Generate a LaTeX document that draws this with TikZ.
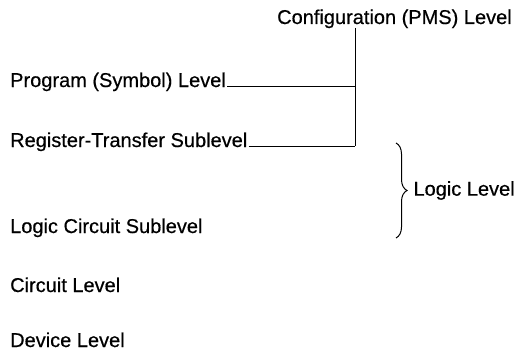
\documentclass[tikz,border=0pt]{standalone}
\usepackage{fontspec}
\setmainfont{Liberation Sans}
\newfontfamily\levelfont[FakeBold=0.5]{Liberation Sans}
\usetikzlibrary{decorations.pathreplacing,positioning}

\begin{document}
\begin{tikzpicture}[x=1pt, y=-1pt,
    level/.style={font=\levelfont\fontsize{20}{24}\selectfont, inner sep=0pt},
    joinline/.style={line width=1pt},
  ]

    \useasboundingbox (0,0) rectangle (516,353);

    %the levels
    \node[level, anchor=base west] (conf) at (277,24) {Configuration (PMS) Level};
    \node[level, anchor=base west] (prog) at (10,87) {Program (Symbol) Level};
    \node[level, anchor=base west] (reg) at (10,147) {Register-Transfer Sublevel};
    \node[level, anchor=base west] (logc) at (10,233) {Logic Circuit Sublevel};
    \node[level, anchor=base west] (circ) at (10,292) {Circuit Level};
    \node[level, anchor=base west] (dev) at (10,347) {Device Level};

    \coordinate (top) at (355,28);
    \coordinate (pj) at (355,86);
    \coordinate (rj) at (355,146);

    %draw the joins
    \draw[joinline] (top) -- (rj);
    \draw[joinline] (prog.base east) ++(1,-1) -- (pj);
    \draw[joinline] (reg.base east) ++(1,-1) -- (rj);

    %the logic level brace
    \coordinate (b1) at (396,143);
    \coordinate (b2) at (396,238);
    \draw[line width=1pt, decorate, decoration={brace, amplitude=11pt}] (b1) -- (b2)
        node[level, midway, anchor=west, xshift=17pt] (logl) {Logic Level};

\end{tikzpicture}
\end{document}
